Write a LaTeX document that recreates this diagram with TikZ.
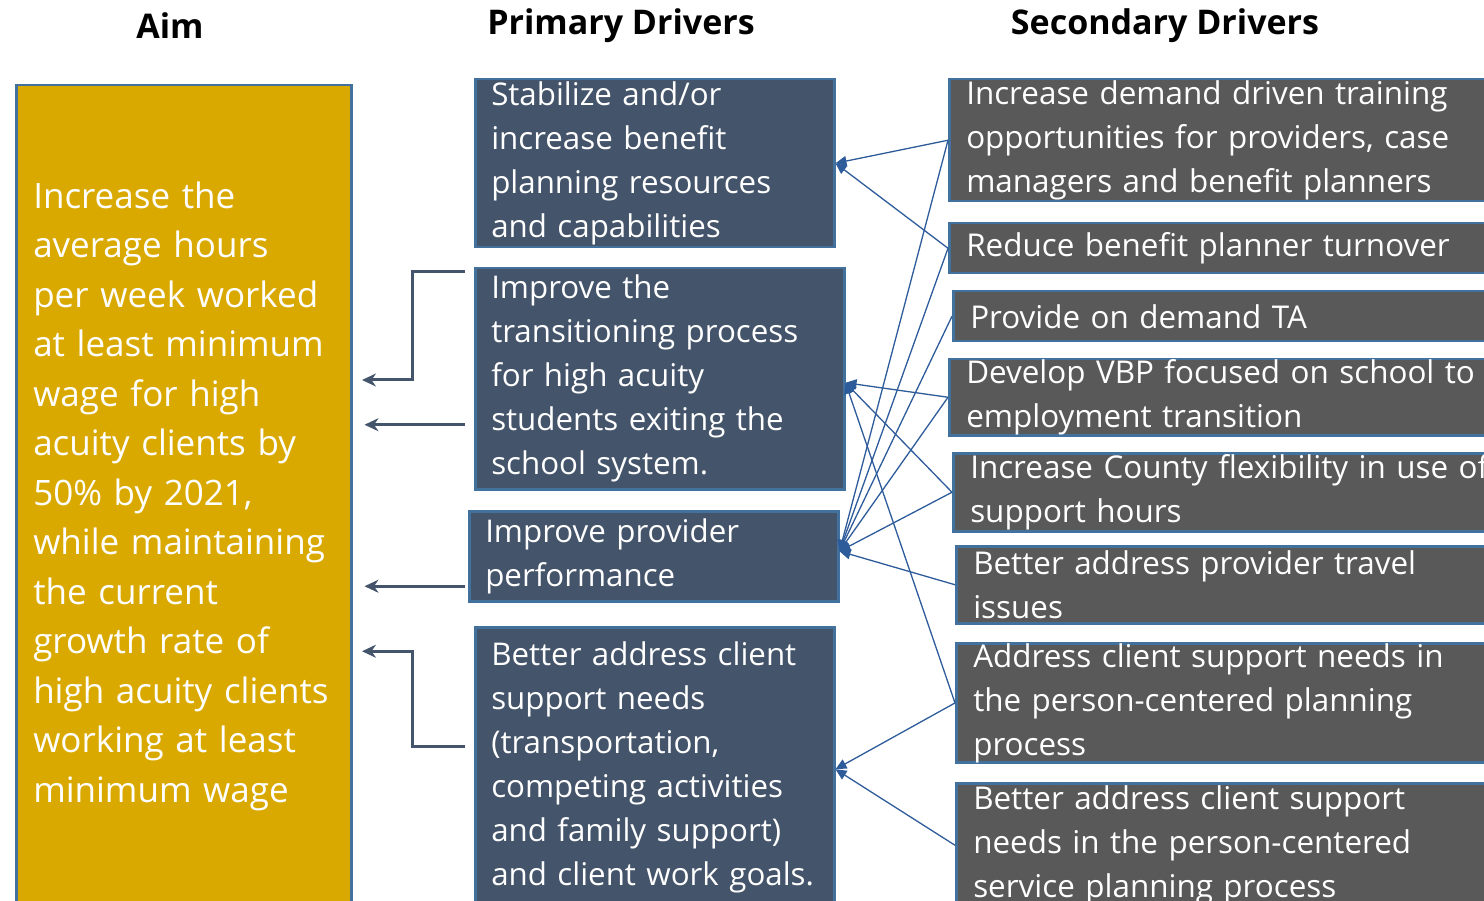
\documentclass[tikz,border=0pt]{standalone}
\usepackage{fontspec}
\setmainfont{Open Sans}
\usepackage{tikz}
\usetikzlibrary{arrows.meta, positioning}

\definecolor{aimgold}{HTML}{DAA900}
\definecolor{slate}{HTML}{44546A}
\definecolor{greybox}{HTML}{595959}
\definecolor{edge}{HTML}{41719C}
\definecolor{linkblue}{HTML}{2E5B9A}

\begin{document}
\begin{tikzpicture}[
			x=1pt, y=-1pt,
			head/.style={font=\fontsize{34}{40}\selectfont\bfseries},
			aimbox/.style={draw=edge, line width=2.5pt, fill=aimgold, text=white, align=left, anchor=north west, inner xsep=17pt, inner ysep=0pt, font=\fontsize{35}{49.5}\selectfont},
			pbox/.style={draw=edge, line width=2.5pt, fill=slate, text=white, align=left, anchor=north west, inner xsep=16pt, inner ysep=0pt, font=\fontsize{31.3}{44}\selectfont},
			sbox/.style={pbox, fill=greybox, inner xsep=17pt, font=\fontsize{31.4}{44}\selectfont},
			feed/.style={-{Triangle[length=11pt,width=10pt]}, draw=linkblue, line width=1.3pt},
			toaim/.style={-{Stealth[length=14pt,width=13pt]}, draw=slate, line width=3pt}
			]
			\useasboundingbox (0,0) rectangle (1484,901);
			\clip (0,0) rectangle (1484,901);
			
			% --- column heads ---
			\node[head] (haim) at (170,26) {Aim};
			\node[head] (hprim) at (621,26) {Primary Drivers};
			\node[head] (hsec) at (1165,26) {Secondary Drivers};
			
			% --- aim ---
			\node[aimbox, minimum width=335, minimum height=822, text width=301] (aim) at (15,84)
			{Increase the\\average hours\\per week worked\\at least minimum\\wage for high\\acuity clients by\\50\% by 2021,\\while maintaining\\the current\\growth rate of\\high acuity clients\\working at least\\minimum wage};
			
			% --- primary drivers ---
			\node[pbox, minimum width=359, minimum height=168, text width=327] (p1) at (474,78)
			{Stabilize and/or\\increase benefit\\planning resources\\and capabilities};
			\node[pbox, minimum width=369, minimum height=221, text width=337] (p2) at (474,267)
			{Improve the\\transitioning process\\for high acuity\\students exiting the\\school system.};
			\node[pbox, minimum width=369, minimum height=90, text width=337] (p3) at (468,510)
			{Improve provider\\performance};
			\node[pbox, minimum width=359, minimum height=280, text width=327] (p4) at (474,626)
			{Better address client\\support needs\\(transportation,\\competing activities\\and family support)\\and client work goals.};
			
			% --- secondary drivers ---
			\node[sbox, minimum width=560, minimum height=122, text width=526] (s1) at (948,78)
			{Increase demand driven training\\opportunities for providers, case\\managers and benefit planners};
			\node[sbox, minimum width=560, minimum height=50, text width=526] (s2) at (948,222)
			{Reduce benefit planner turnover};
			\node[sbox, minimum width=560, minimum height=50, text width=526] (s3) at (952,290)
			{Provide on demand TA};
			\node[sbox, minimum width=560, minimum height=76, text width=526] (s4) at (948,358)
			{Develop VBP focused on school to\\employment transition};
			\node[sbox, minimum width=560, minimum height=78, text width=526] (s5) at (952,452)
			{Increase County flexibility in use of\\support hours};
			\node[sbox, minimum width=560, minimum height=77, text width=526] (s6) at (955,545)
			{Better address provider travel\\issues};
			\node[sbox, minimum width=560, minimum height=118, text width=526] (s7) at (955,642)
			{Address client support needs in\\the person-centered planning\\process};
			\node[sbox, minimum width=560, minimum height=124, text width=526] (s8) at (955,782)
			{Better address client support\\needs in the person-centered\\service planning process};
			
			% --- secondary -> primary ---
			\draw[feed] (s1.west) -- (p1.east);
			\draw[feed] (s2.west) -- (p1.east);
			\draw[feed] (s4.west) -- ([yshift=-4pt]p2.east);
			\draw[feed] (s5.west) -- ([yshift=-4pt]p2.east);
			\draw[feed] (s7.west) -- ([yshift=-4pt]p2.east);
			\foreach \s in {s1,s2,s3,s4,s5,s6}
				\draw[feed] (\s.west) -- ([yshift=5pt]p3.east);
			\draw[feed] (s7.west) -- ([yshift=-2pt]p4.east);
			\draw[feed] (s8.west) -- ([yshift=-2pt]p4.east);
			
			% --- primary -> aim ---
			\draw[toaim] ([xshift=-9pt,yshift=-5pt]p2.north west) -- ++(-53,0) -- ++(0,108) -- ++(-50,0);
			\draw[toaim] ([xshift=-9pt,yshift=-46pt]p2.west) coordinate (t2) -- ([xshift=12pt]aim.east |- t2);
			\draw[toaim] ([xshift=-3pt,yshift=-30pt]p3.west) coordinate (t3) -- ([xshift=12pt]aim.east |- t3);
			\draw[toaim] ([xshift=-9pt,yshift=21pt]p4.west) -- ++(-53,0) -- ++(0,-95) -- ++(-50,0);
			
	\end{tikzpicture}
\end{document}
